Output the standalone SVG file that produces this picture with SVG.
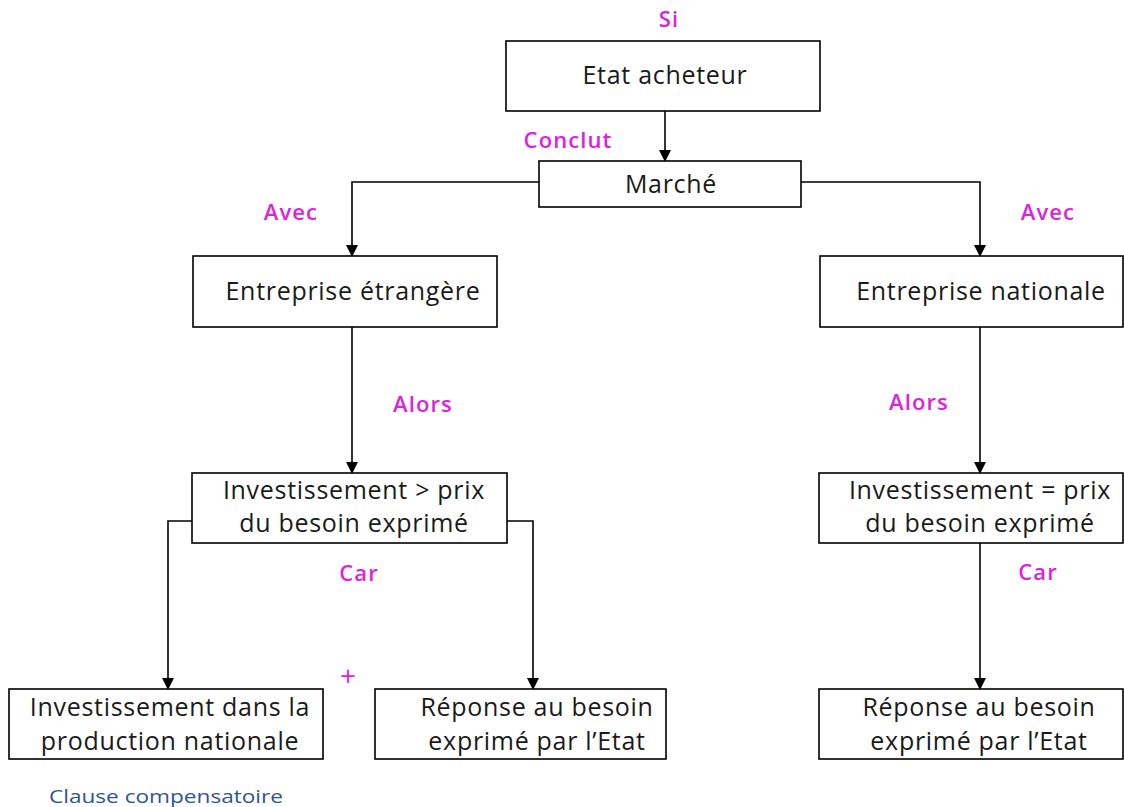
<svg xmlns="http://www.w3.org/2000/svg" width="1124" height="807" viewBox="0 0 1124 807">
<style>
.box{fill:#fff;stroke:#000;stroke-width:1.6}
.t{font-family:"Open Sans","Liberation Sans",sans-serif;font-size:25px;letter-spacing:0.7px;fill:#1a1a1a;text-anchor:middle}
.m{font-family:"Open Sans","Liberation Sans",sans-serif;font-size:22px;letter-spacing:1.1px;font-weight:600;fill:#dd22dd;text-anchor:middle}
.p{font-family:"Open Sans","Liberation Sans",sans-serif;font-size:28px;fill:#dd22dd;text-anchor:middle}
.c{font-family:"Open Sans","Liberation Sans",sans-serif;font-size:19px;fill:#2f5496;text-anchor:middle}
.ln{fill:none;stroke:#000;stroke-width:1.6}
</style>
<defs>
<marker id="ah" markerWidth="12" markerHeight="12" refX="10" refY="6" orient="auto" markerUnits="userSpaceOnUse">
<path d="M0,0 L12,6 L0,12 Z" fill="#000"/>
</marker>
</defs>
<rect width="1124" height="807" fill="#fff"/>
<g id="connectors">
<path class="ln" d="M665,111 V160" marker-end="url(#ah)"/>
<path class="ln" d="M539,182 H352 V255" marker-end="url(#ah)"/>
<path class="ln" d="M801,182 H980 V255" marker-end="url(#ah)"/>
<path class="ln" d="M352,327 V472" marker-end="url(#ah)"/>
<path class="ln" d="M980,327 V472" marker-end="url(#ah)"/>
<path class="ln" d="M192,521 H168 V688" marker-end="url(#ah)"/>
<path class="ln" d="M507,521 H533 V688" marker-end="url(#ah)"/>
<path class="ln" d="M980,543 V688" marker-end="url(#ah)"/>
</g>
<g id="labels">
<text class="m" x="669" y="27">Si</text>
<text class="m" x="568" y="148">Conclut</text>
<text class="m" x="291" y="220">Avec</text>
<text class="m" x="1048" y="220">Avec</text>
<text class="m" x="423" y="412">Alors</text>
<text class="m" x="919" y="410">Alors</text>
<text class="m" x="359" y="581">Car</text>
<text class="m" x="1038" y="580">Car</text>
<text class="p" x="348" y="686">+</text>
<text class="c" x="166" y="803" textLength="234" lengthAdjust="spacingAndGlyphs">Clause compensatoire</text>
</g>
<g id="etat">
<rect class="box" x="506" y="41" width="314" height="70"/>
<text class="t" x="665" y="84">Etat acheteur</text>
</g>
<g id="marche">
<rect class="box" x="539" y="161" width="262" height="46"/>
<text class="t" x="671" y="193">Marché</text>
</g>
<g id="etrangere">
<rect class="box" x="193" y="256" width="304" height="71"/>
<text class="t" x="353" y="300">Entreprise étrangère</text>
</g>
<g id="nationale">
<rect class="box" x="820" y="256" width="303" height="71"/>
<text class="t" x="981" y="300">Entreprise nationale</text>
</g>
<g id="invest-sup">
<rect class="box" x="192" y="473" width="315" height="70"/>
<text class="t" x="354" y="499">Investissement &gt; prix</text>
<text class="t" x="354" y="532">du besoin exprimé</text>
</g>
<g id="invest-eq">
<rect class="box" x="819" y="473" width="304" height="70"/>
<text class="t" x="980" y="499">Investissement = prix</text>
<text class="t" x="980" y="532">du besoin exprimé</text>
</g>
<g id="invest-prod">
<rect class="box" x="9" y="689" width="314" height="70"/>
<text class="t" x="170" y="716">Investissement dans la</text>
<text class="t" x="170" y="750">production nationale</text>
</g>
<g id="reponse-left">
<rect class="box" x="375" y="689" width="291" height="70"/>
<text class="t" x="537" y="716">Réponse au besoin</text>
<text class="t" x="537" y="750">exprimé par l’Etat</text>
</g>
<g id="reponse-right">
<rect class="box" x="819" y="689" width="304" height="70"/>
<text class="t" x="979" y="716">Réponse au besoin</text>
<text class="t" x="979" y="750">exprimé par l’Etat</text>
</g>
</svg>
